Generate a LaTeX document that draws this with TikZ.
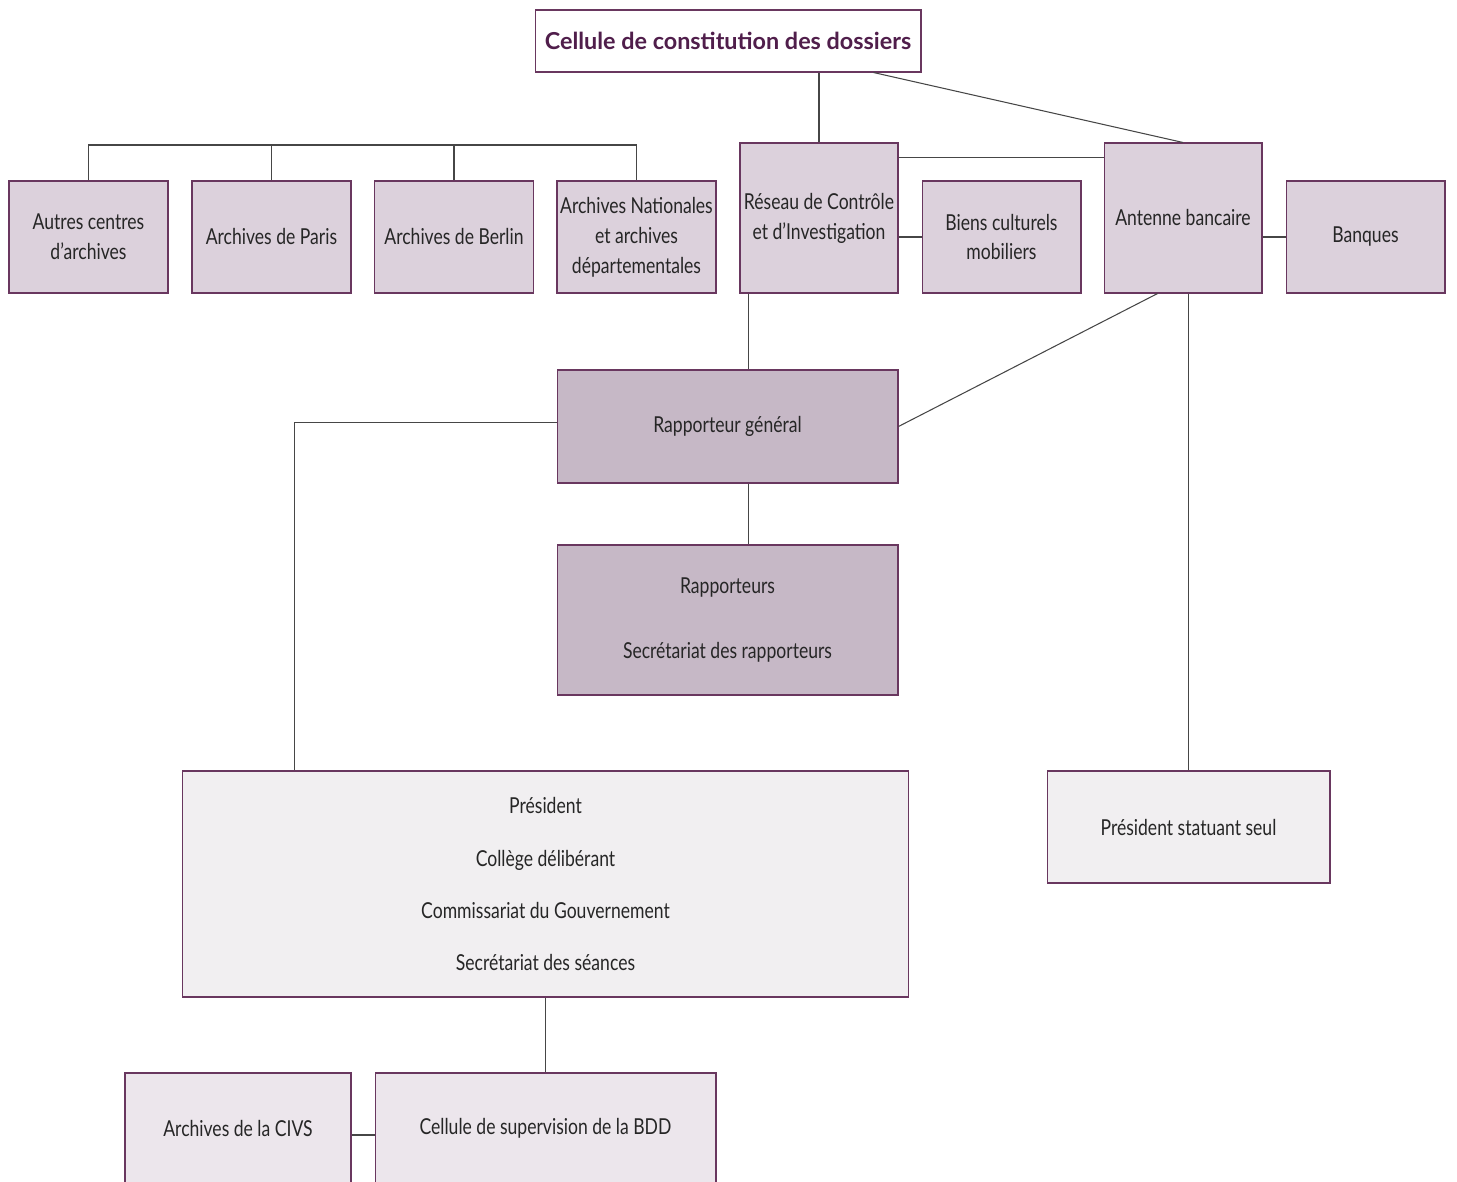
\documentclass[tikz,border=0pt]{standalone}
\usepackage{fontspec}
\setmainfont{Lato}[FakeStretch=0.8]
\newfontfamily\titrefont{Lato}
\usetikzlibrary{calc}

\definecolor{cadre}{RGB}{105,55,95}
\definecolor{titre}{RGB}{80,30,75}
\definecolor{mauve}{RGB}{220,209,220}
\definecolor{mauvefonce}{RGB}{198,184,198}
\definecolor{pale}{RGB}{241,239,241}
\definecolor{gris}{RGB}{236,230,236}
\definecolor{trait}{RGB}{70,70,70}

\begin{document}
\begin{tikzpicture}[x=0.02cm,y=-0.02cm,
  font=\fontsize{12.5}{17}\selectfont,
  boite/.style={rectangle, draw=cadre, line width=0.6pt, text=black!85, align=center, inner sep=0pt},
  petite/.style={boite, fill=mauve, minimum width=3.18cm, minimum height=2.24cm},
  haute/.style={boite, fill=mauve, minimum width=3.16cm, minimum height=3cm},
  lien/.style={draw=trait, line width=0.6pt}]
\useasboundingbox (0,0) rectangle (1457,1182);
\path (728,41) node[boite, fill=white, minimum width=7.72cm, minimum height=1.24cm, text=titre, font=\titrefont\fontsize{13.3}{15}\bfseries\selectfont](cellule) {Cellule de constitution des dossiers}
(88.5,237) node[petite](autres) {Autres centres\\d'archives}
(271.5,237) node[petite](paris) {Archives de Paris}
(454,237) node[petite](berlin) {Archives de Berlin}
(636.5,237) node[petite](nationales) {Archives Nationales\\et archives\\départementales}
(819,218) node[haute](reseau) {Réseau de Contrôle\\et d'Investigation}
(1001.5,237) node[petite](biens) {Biens culturels\\mobiliers}
(1183,218) node[haute](antenne) {Antenne bancaire}
(1365.5,237) node[petite](banques) {Banques}
(727.5,426.5) node[boite, fill=mauvefonce, minimum width=6.82cm, minimum height=2.26cm](general) {Rapporteur général}
(727.5,620) node[boite, fill=mauvefonce, minimum width=6.82cm, minimum height=3cm](rapporteurs) {Rapporteurs\\[20pt]Secrétariat des rapporteurs}
(545.5,884) node[boite, fill=pale, minimum width=14.54cm, minimum height=4.52cm](president) {Président\\[12.6pt]Collège délibérant\\[12.6pt]Commissariat du Gouvernement\\[12.6pt]Secrétariat des séances}
(1188.5,827) node[boite, fill=pale, minimum width=5.66cm, minimum height=2.24cm](seul) {Président statuant seul}
(238,1128) node[boite, fill=gris, minimum width=4.52cm, minimum height=2.2cm](civs) {Archives de la CIVS}
(545.5,1128) node[boite, fill=gris, minimum width=6.82cm, minimum height=2.2cm](bdd) {Cellule de supervision de la BDD};
%les archives
\coordinate (bus) at (0,145);
\draw[lien] (autres.north) -- (autres.north |- bus) -- (nationales.north |- bus) -- (nationales.north);
\draw[lien] (paris.north) -- (paris.north |- bus);
\draw[lien] (berlin.north) -- (berlin.north |- bus);
%le haut
\draw[lien] (reseau.north) -- (reseau.north |- cellule.south);
\draw[lien] ($(cellule.south west)!0.876!(cellule.south east)$) -- (antenne.north);
\draw[lien] ($(reseau.north east)+(0,15)$) -- ($(antenne.north west)+(0,15)$);
\draw[lien] (reseau.east |- biens.east) -- (biens.west);
\draw[lien] (antenne.east |- banques.west) -- (banques.west);
%les rapporteurs
\coordinate (r1) at ($(reseau.south west)+(9,0)$);
\draw[lien] (r1) -- (r1 |- general.north);
\draw[lien] ($(antenne.south west)!0.34!(antenne.south east)$) -- ($(general.north east)!0.5!(general.south east)$);
\draw[lien] (r1 |- general.south) -- (r1 |- rapporteurs.north);
\draw[lien] (seul.north) -- (seul.north |- antenne.south);
\draw[lien] ($(general.west)+(0,-4)$) -| ($(president.north west)+(113,0)$);
%le bas
\draw[lien] (president.south) -- (bdd.north);
\draw[lien] ($(civs.east)+(0,7)$) -- ($(bdd.west)+(0,7)$);
\end{tikzpicture}
\end{document}
